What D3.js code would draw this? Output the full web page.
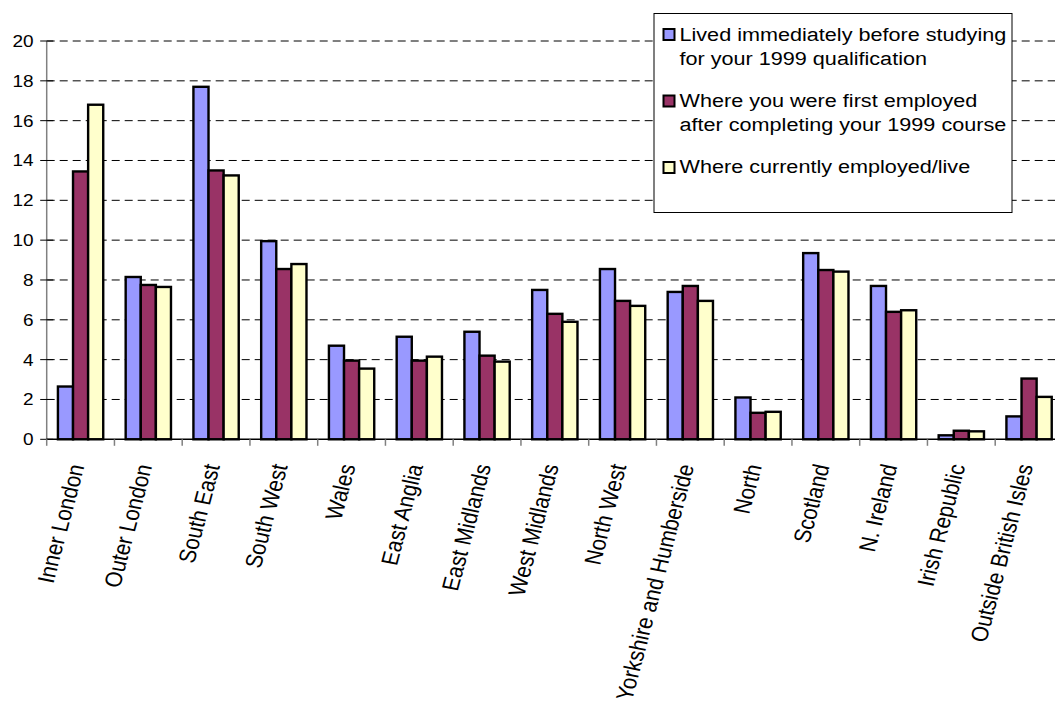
<!DOCTYPE html>
<html>
<head>
<meta charset="utf-8">
<script src="https://cdn.jsdelivr.net/npm/d3@7"></script>
<style>
  html, body { margin: 0; padding: 0; background: #fff; }
  svg { display: block; }
  text { font-family: Arial, "Liberation Sans", sans-serif; fill: #000; }
</style>
</head>
<body>
<svg id="chart" width="1055" height="703"></svg>
<script>
// Regions (category axis)
const categories = [
  "Inner London", "Outer London", "South East", "South West", "Wales",
  "East Anglia", "East Midlands", "West Midlands", "North West",
  "Yorkshire and Humberside", "North", "Scotland", "N. Ireland",
  "Irish Republic", "Outside British Isles"
];

// Series names (legend text, split into lines)
const seriesNames = [
  ["Lived immediately before studying", "for your 1999 qualification"],
  ["Where you were first employed", "after completing your 1999 course"],
  ["Where currently employed/live"]
];

// Percentages per region
const livedBefore       = [2.65, 8.15, 17.7, 9.95, 4.7, 5.15, 5.4, 7.5, 8.55, 7.4, 2.1, 9.35, 7.7, 0.2, 1.15];
const firstEmployed     = [13.45, 7.75, 13.5, 8.55, 3.95, 3.95, 4.2, 6.3, 6.95, 7.7, 1.33, 8.5, 6.4, 0.43, 3.05];
const currentlyEmployed = [16.8, 7.65, 13.25, 8.8, 3.55, 4.15, 3.9, 5.9, 6.7, 6.95, 1.38, 8.42, 6.48, 0.4, 2.13];

// Value axis ticks
const yTicks = [0, 2, 4, 6, 8, 10, 12, 14, 16, 18, 20];

const seriesValues = [livedBefore, firstEmployed, currentlyEmployed];
const seriesColors = ["#9999FF", "#993366", "#FFFFCC"];
const seriesKeys = ["lived", "first", "current"];

const svg = d3.select("#chart");
const sx = 1.15;          // horizontal text stretch
const plotLeft = 46.7, step = 67.75;
const plotTop = 41, plotBottom = 439.3;

const x0 = d3.scaleBand()
  .domain(categories)
  .range([plotLeft, plotLeft + step * categories.length])
  .padding(0);

const x1 = d3.scaleBand()
  .domain(seriesKeys)
  .range([0, x0.bandwidth()])
  .paddingInner(0)
  .paddingOuter(0.743);

const y = d3.scaleLinear().domain([0, 20]).range([plotBottom, plotTop]);

// Dashed gridlines
svg.append("g")
  .selectAll("line")
  .data(yTicks.filter(d => d > 0))
  .join("line")
  .attr("x1", plotLeft)
  .attr("x2", 1055)
  .attr("y1", d => y(d))
  .attr("y2", d => y(d))
  .attr("stroke", "#000")
  .attr("stroke-width", 1)
  .attr("stroke-dasharray", "8,5");

// Bars
const rows = categories.map((c, i) => ({
  cat: c,
  vals: seriesKeys.map((k, j) => ({ key: k, value: seriesValues[j][i], color: seriesColors[j] }))
}));

svg.append("g")
  .selectAll("g")
  .data(rows)
  .join("g")
  .attr("transform", d => `translate(${x0(d.cat)},0)`)
  .selectAll("rect")
  .data(d => d.vals)
  .join("rect")
  .attr("x", d => x1(d.key))
  .attr("width", x1.bandwidth())
  .attr("y", d => y(d.value))
  .attr("height", d => y(0) - y(d.value))
  .attr("fill", d => d.color)
  .attr("stroke", "#000")
  .attr("stroke-width", 2.4);

// Value axis
svg.append("line")
  .attr("x1", plotLeft).attr("x2", plotLeft)
  .attr("y1", plotTop).attr("y2", plotBottom)
  .attr("stroke", "#808080").attr("stroke-width", 1.5);

const yAxis = svg.append("g");
yAxis.selectAll("line")
  .data(yTicks)
  .join("line")
  .attr("x1", plotLeft - 6.5).attr("x2", plotLeft + 6.5)
  .attr("y1", d => y(d)).attr("y2", d => y(d))
  .attr("stroke", "#000").attr("stroke-width", 1);

yAxis.selectAll("text")
  .data(yTicks)
  .join("text")
  .attr("transform", d => `translate(33.5,${y(d)}) scale(${sx},1)`)
  .attr("text-anchor", "end")
  .attr("dy", "0.36em")
  .attr("font-size", 16.5)
  .text(d => d);

// Category axis
svg.append("line")
  .attr("x1", plotLeft).attr("x2", 1055)
  .attr("y1", plotBottom).attr("y2", plotBottom)
  .attr("stroke", "#000").attr("stroke-width", 1.5);

const catEdges = d3.range(categories.length + 1).map(i => plotLeft + i * step);
svg.append("g")
  .selectAll("line")
  .data(catEdges)
  .join("line")
  .attr("x1", d => d).attr("x2", d => d)
  .attr("y1", plotBottom).attr("y2", plotBottom + 6.5)
  .attr("stroke", "#808080").attr("stroke-width", 1.5);

svg.append("g")
  .selectAll("text")
  .data(categories)
  .join("text")
  .attr("transform", d => `translate(${x0(d) + x0.bandwidth() / 2 + 4},466) scale(${sx},1) rotate(-77)`)
  .attr("text-anchor", "end")
  .attr("font-size", 20.6)
  .text(d => d);

// Legend
const legend = svg.append("g");
legend.append("rect")
  .attr("x", 654).attr("y", 13.5)
  .attr("width", 358).attr("height", 199)
  .attr("fill", "#fff")
  .attr("stroke", "#000").attr("stroke-width", 1);

const legendRows = [
  { sw: 29, lines: [41, 65] },
  { sw: 95.5, lines: [107, 131] },
  { sw: 162, lines: [173] }
];

legendRows.forEach((r, i) => {
  legend.append("rect")
    .attr("x", 663.5).attr("y", r.sw)
    .attr("width", 11).attr("height", 11)
    .attr("fill", seriesColors[i])
    .attr("stroke", "#000").attr("stroke-width", 2);
  seriesNames[i].forEach((line, k) => {
    legend.append("text")
      .attr("transform", `translate(679.5,${r.lines[k]}) scale(${sx},1)`)
      .attr("font-size", 18.8)
      .text(line);
  });
});
</script>
</body>
</html>
